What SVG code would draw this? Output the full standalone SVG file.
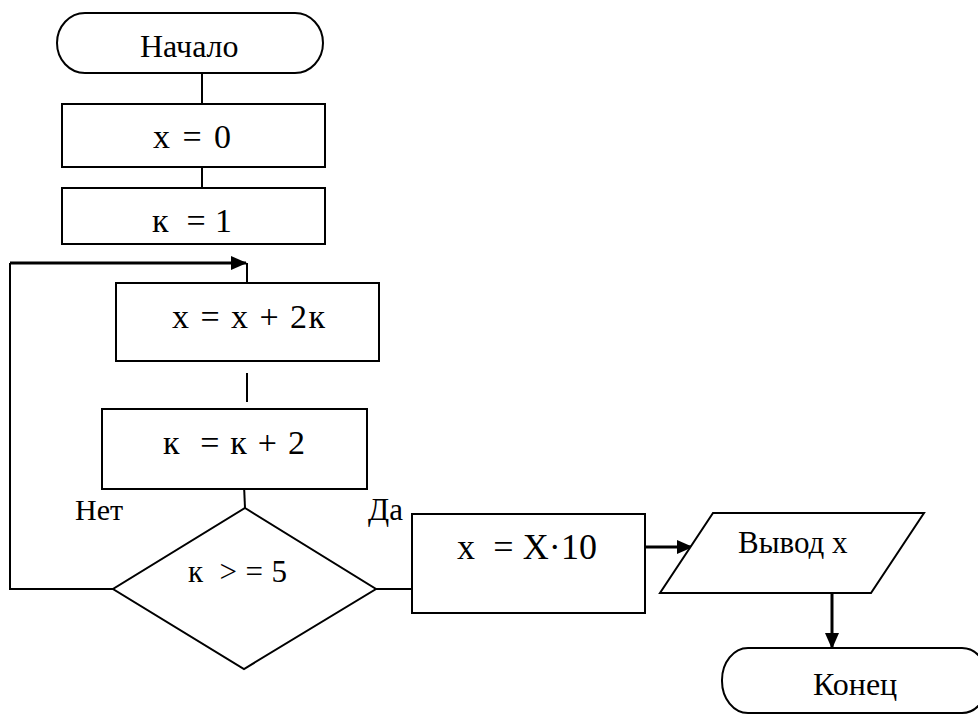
<svg xmlns="http://www.w3.org/2000/svg" width="978" height="714" viewBox="0 0 978 714">
  <style>
    .shape { fill: #fff; stroke: #000; stroke-width: 2; }
    .line { fill: none; stroke: #000; stroke-width: 2; }
    .arrow { fill: none; stroke: #000; stroke-width: 3; }
    .lbl { fill: #000; white-space: pre; font-family: "Liberation Serif", "Times New Roman", "DejaVu Serif", serif; }
  </style>
  <defs>
    <marker id="head" markerWidth="16" markerHeight="14" refX="15" refY="7" orient="auto" markerUnits="userSpaceOnUse">
      <path d="M0,0 L16,7 L0,14 Z" fill="#000"/>
    </marker>
  </defs>
  <rect width="978" height="714" fill="#fff"/>

  <!-- flow lines -->
  <g id="connectors">
    <line class="line" x1="202" y1="73" x2="202" y2="104"/>
    <line class="line" x1="202" y1="167" x2="202" y2="188"/>
    <line class="line" x1="247" y1="263" x2="247" y2="283"/>
    <line class="line" x1="247" y1="373" x2="247" y2="402"/>
    <line class="line" x1="244" y1="485" x2="245" y2="508"/>
    <polyline class="line" points="113,589 10,589 10,263"/>
    <line class="arrow" x1="10" y1="263" x2="246" y2="263" marker-end="url(#head)"/>
    <line class="line" x1="376" y1="589" x2="412" y2="589"/>
    <line class="arrow" x1="645" y1="547" x2="692" y2="547" marker-end="url(#head)"/>
    <line class="arrow" x1="832" y1="580" x2="832" y2="648" marker-end="url(#head)"/>
  </g>

  <g id="start">
    <rect class="shape" x="57" y="13" width="266" height="60" rx="28" ry="30"/>
    <text class="lbl" font-size="32" x="140" y="57">Начало</text>
  </g>

  <g id="init-x">
    <rect class="shape" x="62" y="104" width="263" height="63"/>
    <text class="lbl" font-size="34" x="153" y="148" textLength="78">x = 0</text>
  </g>

  <g id="init-k">
    <rect class="shape" x="62" y="188" width="263" height="56"/>
    <text class="lbl" font-size="34" x="152" y="232" textLength="80">к  = 1</text>
  </g>

  <g id="add">
    <rect class="shape" x="116" y="283" width="263" height="78"/>
    <text class="lbl" font-size="34" x="172" y="328" textLength="153">x = x + 2к</text>
  </g>

  <g id="step">
    <rect class="shape" x="102" y="409" width="265" height="80"/>
    <text class="lbl" font-size="34" x="163" y="454" textLength="142">к  = к + 2</text>
  </g>

  <g id="check">
    <polygon class="shape" points="245,508 376,589 244,669 113,589"/>
    <text class="lbl" font-size="31" x="188" y="582" textLength="99">к  &gt; = 5</text>
    <text class="lbl" font-size="30" x="75" y="520">Нет</text>
    <text class="lbl" font-size="31" x="368" y="520">Да</text>
  </g>

  <g id="scale">
    <rect class="shape" x="412" y="514" width="233" height="99"/>
    <text class="lbl" font-size="36" x="457" y="559" textLength="140">x  = X·10</text>
  </g>

  <g id="output">
    <polygon class="shape" points="713,513 924,513 871,593 660,593"/>
    <text class="lbl" font-size="31" x="738" y="553">Вывод x</text>
  </g>

  <g id="end">
    <rect class="shape" x="722" y="648" width="266" height="65" rx="26" ry="32"/>
    <text class="lbl" font-size="32" x="813" y="695">Конец</text>
  </g>
</svg>
